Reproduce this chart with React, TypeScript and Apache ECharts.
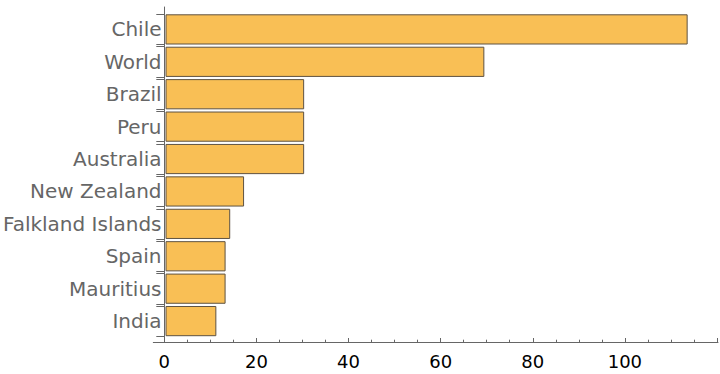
import React, { useEffect, useRef } from "react";
import * as echarts from "echarts";

const categories = [
  "Chile",
  "World",
  "Brazil",
  "Peru",
  "Australia",
  "New Zealand",
  "Falkland Islands",
  "Spain",
  "Mauritius",
  "India",
];
const values = [113, 69, 30, 30, 30, 17, 14, 13, 13, 11];
const xTickValues = [0, 20, 40, 60, 80, 100];

export default function App() {
  const ref = useRef<HTMLDivElement>(null);
  useEffect(() => {
    if (!ref.current) return;
    document.body.style.margin = "0";
    const chart = echarts.init(ref.current, null, { renderer: "svg" });
    const font = "DejaVu Sans";
    const axisGray = "#666666";
    const scaleMax = 120;
    const left0 = 164.3;
    const pxPerUnit = 4.65;
    const rightFull = 720 - (left0 + scaleMax * pxPerUnit);
    const slot = 32.41;
    const barsTop = 14.3;
    const barH = 30.2;
    const n = categories.length;
    const hiddenValueX = (gridIndex: number, min: number, max: number) => ({
      type: "value",
      gridIndex,
      min,
      max,
      show: false,
    });
    chart.setOption({
      animation: false,
      backgroundColor: "#ffffff",
      grid: [
        {
          left: left0,
          right: rightFull,
          top: barsTop - (slot - barH) / 2,
          height: slot * n,
        },
        { left: left0, right: rightFull, top: barsTop, height: slot * (n - 1) },
        {
          left: left0,
          right: rightFull,
          top: barsTop + barH,
          height: slot * (n - 1),
        },
        { left: left0 - 11, right: 2, top: 7, bottom: 32 },
        { left: left0, right: rightFull, top: 7, bottom: 32 },
      ],
      xAxis: [
        hiddenValueX(0, 0, scaleMax),
        hiddenValueX(1, 0, scaleMax),
        hiddenValueX(2, 0, scaleMax),
        {
          type: "value",
          gridIndex: 3,
          min: -11 / pxPerUnit,
          max: (718 - left0) / pxPerUnit,
          axisLine: { show: true, lineStyle: { color: axisGray, width: 1 } },
          axisTick: { show: false },
          axisLabel: { show: false },
          splitLine: { show: false },
        },
        {
          type: "value",
          gridIndex: 4,
          min: 0,
          max: scaleMax,
          interval: 20,
          axisLine: { show: false },
          axisTick: {
            show: true,
            inside: true,
            length: 4,
            lineStyle: { color: axisGray, width: 1 },
          },
          minorTick: {
            show: true,
            splitNumber: 4,
            length: 2.3,
            lineStyle: { color: axisGray, width: 1 },
          },
          axisLabel: {
            show: true,
            margin: 10,
            color: "#000000",
            fontFamily: font,
            fontSize: 18,
            formatter: (v: number) =>
              xTickValues.indexOf(v) >= 0 ? String(v) : "",
          },
          splitLine: { show: false },
        },
      ],
      yAxis: [
        {
          type: "category",
          gridIndex: 0,
          data: categories,
          inverse: true,
          axisLine: { show: false },
          axisTick: { show: false },
          axisLabel: {
            margin: 4,
            color: axisGray,
            fontFamily: font,
            fontSize: 20,
          },
        },
        {
          type: "category",
          gridIndex: 1,
          data: categories,
          inverse: true,
          boundaryGap: false,
          axisLine: { show: false },
          axisLabel: { show: false },
          axisTick: {
            show: true,
            length: 8,
            lineStyle: { color: axisGray, width: 1 },
          },
        },
        {
          type: "category",
          gridIndex: 2,
          data: categories,
          inverse: true,
          boundaryGap: false,
          axisLine: { show: false },
          axisLabel: { show: false },
          axisTick: {
            show: true,
            length: 8,
            lineStyle: { color: axisGray, width: 1 },
          },
        },
        {
          type: "value",
          gridIndex: 3,
          min: 0,
          max: 1,
          axisLine: {
            show: true,
            onZero: true,
            lineStyle: { color: axisGray, width: 1 },
          },
          axisTick: { show: false },
          axisLabel: { show: false },
          splitLine: { show: false },
        },
        {
          type: "value",
          gridIndex: 4,
          min: 0,
          max: 1,
          show: false,
        },
      ],
      series: [
        {
          type: "bar",
          xAxisIndex: 0,
          yAxisIndex: 0,
          data: values,
          barCategoryGap: ((slot - barH) / slot) * 100 + "%",
          itemStyle: {
            color: "#F9BF55",
            borderColor: "#5e5242",
            borderWidth: 1,
          },
        },
      ],
    });
    return () => chart.dispose();
  }, []);
  return <div ref={ref} style={{ width: 720, height: 374 }} />;
}
